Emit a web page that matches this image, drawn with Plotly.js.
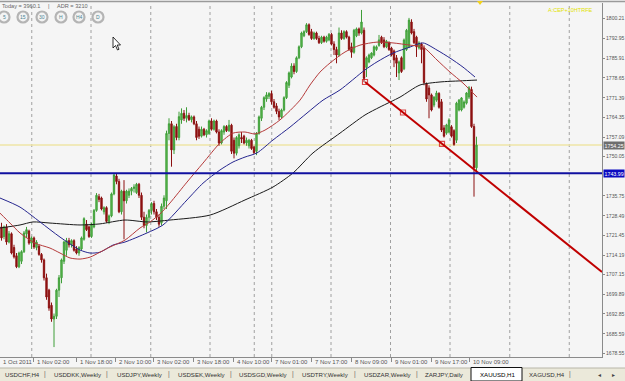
<!DOCTYPE html>
<html><head><meta charset="utf-8">
<script src="https://cdn.plot.ly/plotly-3.0.1.min.js"></script>
<style>html,body{margin:0;padding:0;background:#f5f5f5;}#chart{width:625px;height:381px;}</style>
</head><body><div id="chart"></div>
<script>
// ---- XAUUSD H1 candles (hourly bars, left to right) ----
const openP = [1724.5,1721,1724.5,1719,1722,1717,1714,1710,1712,1715.5,1722,1723,1718.6,1720.5,1717,1717.5,1714.5,1712.5,1706,1701.5,
1696,1691,1692,1701.5,1706,1712,1716,1719.5,1718,1719.5,1716.5,1715,1716.5,1720,1725.5,1724.5,1721,1724.5,1730.5,1735.5,
1735,1730,1731.5,1726.5,1728.5,1736.5,1743,1741,1730,1737.5,1734,1736,1737.5,1738.5,1737,1740,1736,1728,1725,1728,
1730.5,1733,1730,1728,1726,1732,1734,1758.5,1762,1752.5,1761,1757,1763.4,1765.8,1764,1765,1763.5,1764.5,1762,1760,
1757.5,1760,1758,1758.5,1763,1760,1763,1759,1755,1759,1761,1759.5,1761.5,1756,1751.3,1754,1757,1757.5,1755,1754,
1756,1753.5,1752,1758.5,1764,1768,1771,1772,1773,1770,1768.5,1766.5,1764.5,1767,1771.5,1776,1779,1783,1781,1786,
1790,1794,1795.5,1798,1795.5,1793,1795,1793,1791.5,1793.5,1792,1792.5,1794.5,1791,1789,1787,1795,1793,1795.5,1793.5,
1790,1788,1794,1796.5,1795,1796,1782.5,1784.5,1786,1787,1789,1790.5,1793.5,1792.5,1790,1791.5,1789.5,1788.5,1786,1780.5,
1786,1782,1789,1790,1799,1795.5,1793.5,1789.6,1791,1789.5,1776.5,1775,1772.5,1768.8,1770.6,1773,1770,1760.5,1758.6,1759,
1760.9,1759.5,1756,1767,1767,1768,1769.5,1771.7,1774.5,1761,1746];
const highP = [1726,1725,1725.5,1723,1722.5,1718,1715,1715.5,1716,1723,1724.5,1723.5,1721,1721,1719.7,1718,1715,1713,1707.5,1702,
1697,1693,1702,1707,1713,1719.5,1720.5,1720.5,1720,1720,1717.5,1717.5,1721,1728,1727,1725,1726,1731,1736.8,1736.5,
1735.5,1732,1732,1729,1737,1744.1,1744,1742,1738,1741.5,1738,1738.5,1739,1740,1740.5,1740.5,1737,1730,1729,1731,
1733.5,1734,1731,1729,1733,1736,1759.5,1764,1763,1761.5,1762,1766.4,1767.6,1767,1768,1766,1765,1765,1763,1761,
1761,1760.5,1760,1763.5,1764,1763.5,1763.5,1760,1760,1761.5,1761.5,1763.4,1762,1757,1757.5,1758.5,1759,1758,1757,1756.5,
1756.5,1754,1759,1765,1768.5,1772,1773.5,1773.5,1774,1771,1769.5,1767.5,1767.5,1772,1777.5,1781,1784,1784,1786.5,1790.5,
1795.5,1796,1798.6,1798.5,1796.5,1795.5,1795.5,1794,1794,1794,1794,1795,1795,1792,1790,1797,1796,1796,1796,1794,
1791.5,1796.5,1797,1797,1803.4,1797,1786.5,1787.5,1788,1790.5,1790.5,1794.3,1794,1793.5,1792.5,1792,1790,1789,1787,1785,
1786.5,1793,1796.5,1800.5,1800,1796.5,1794,1792,1791.5,1790.5,1777,1776,1773,1772,1774,1773.5,1771,1761.5,1762,1764,
1761.5,1760,1770,1771,1771.7,1770.5,1773.5,1775.7,1775.5,1762,1757.3];
const lowP = [1719.5,1720,1718,1718.5,1714.5,1713,1709.5,1709.5,1711,1715,1720.5,1718,1716.5,1716.5,1716,1714,1711.5,1705,1698,1694,
1690,1680.8,1691,1699,1704,1711,1714,1717,1717,1715.5,1714.5,1714,1716,1719.5,1723,1720.5,1720.5,1724,1730,1733.5,
1730.5,1729,1726,1725.5,1728,1736,1740,1729.5,1729,1720,1733,1735,1736,1737,1736.5,1735,1727,1724,1722.5,1726.5,
1729,1729,1727,1724.5,1725,1731,1731,1756,1746.4,1751,1756,1756,1762,1763,1762.5,1763,1762.5,1761.5,1756,1756.5,
1757,1757.5,1757,1758,1759.5,1759.5,1758.5,1754,1754.5,1758,1759,1759,1751,1749.4,1750.5,1753,1755,1754.5,1754,1753,
1752.5,1751,1750.6,1758,1763,1767,1770,1771,1769,1767.5,1765.5,1763.4,1764,1766.5,1771,1775,1778.5,1780,1780.5,1785.5,
1789.5,1793.5,1795,1794,1792.5,1792.5,1792.5,1791,1791,1791.5,1791.5,1792,1790.5,1787,1784,1786.5,1792.5,1792.5,1793,1788.5,
1786,1787.5,1793.5,1794,1794.5,1777.2,1779,1784,1785.5,1786.5,1788.5,1790,1791,1789.5,1789.5,1788.5,1786.5,1782.6,1779,1777.9,
1780.5,1781.5,1788.5,1789.5,1794.5,1791,1786.3,1789,1784,1776,1770,1764,1766.5,1768,1770,1767.5,1759,1757,1758,1758.5,
1757,1754,1755,1766.5,1766.5,1767.5,1769,1771,1760.5,1735.5,1744];
const closeP = [1720.5,1724.5,1719,1722,1715,1713.6,1710,1715,1715.5,1722.3,1723.5,1718.6,1720.5,1717.2,1719,1714.5,1712.5,1706,1699,1695,
1691,1692,1701.5,1706,1712.5,1719,1719.5,1718,1719.5,1716,1715,1717,1720.5,1727.5,1723.5,1721,1725.5,1730.5,1736,1734.5,
1731,1731.5,1726.5,1728.5,1736.5,1743.4,1741,1730,1737.5,1734,1737.5,1737.5,1738.5,1739,1740,1736,1728,1725,1728,1730.5,
1733,1730,1728,1725.5,1732,1735,1758.5,1762,1752.5,1760.9,1757,1764.6,1765.8,1764,1765,1763.5,1764.5,1762,1757,1757.5,
1760,1758,1759.5,1763,1760,1763,1759,1755,1759.5,1761,1759.5,1761.5,1752,1751.3,1757,1758,1756.5,1755,1756,1756,
1753,1751.5,1758.5,1764.5,1768,1771.5,1772.5,1773,1770,1768,1766.5,1764.5,1767,1771.5,1777,1780.5,1783,1781,1786,1790,
1795,1795.5,1798,1794.5,1793,1795,1793,1791.5,1793.5,1792,1793.5,1794.5,1791,1789,1787,1795,1793,1795.5,1793.5,1789,
1788,1796,1796.5,1795,1799,1778.5,1786,1787,1787.7,1790,1790,1792.5,1791.5,1790,1792,1789,1787,1785.2,1784,1784.5,
1781,1792.5,1796,1799.7,1795,1791.5,1790,1791.4,1789,1777,1771,1772.5,1767,1771.7,1773.2,1768,1759.7,1757.5,1761.6,1763.4,
1757.5,1754.5,1769.5,1770.6,1771.4,1769.9,1773.2,1775.1,1761,1746,1754.25];

// ---- moving averages, sampled along the chart (bar position, price) ----
const maRedBars = [-0.6,3.4,7.4,13.4,19.4,23.4,27.4,31.4,35.4,39.4,43.4,49.4,55.4,59.4,63.4,67.4,74.2,80.6,87.4,92.6,97.4,101.4,105.4,111.4,119.4,123.4,127.4,131.4,137.4,143.4,150.2,156.6,163.4,168.6,174.2,179.4,184.6,190.2];
const maRedVals = [1729.5,1725.9,1722.3,1718.6,1716.8,1715.0,1713.2,1712.8,1713.5,1715.3,1717.2,1719.7,1724.1,1726.3,1729.2,1733.2,1740.8,1747.7,1755.0,1758.6,1759.0,1758.3,1759.7,1763.4,1770.6,1776.1,1780.8,1784.1,1788.1,1790.6,1791.7,1791.4,1790.6,1789.9,1785.2,1780.8,1776.8,1771.7];
const maBlueBars = [-0.6,7.4,15.4,23.4,31.4,35.4,39.4,44.6,49.4,58.2,64.6,74.2,80.6,87.4,92.6,97.4,102.2,108.6,115.4,122.2,128.6,135.4,145.4,150.2,156.6,163.4,168.6,174.2,179.4,184.6,189.4];
const maBlueVals = [1735.0,1731.7,1726.3,1720.8,1716.1,1715.0,1715.3,1717.9,1719.0,1722.3,1725.2,1734.3,1740.4,1745.2,1748.1,1749.9,1751.4,1756.1,1760.8,1765.9,1770.6,1774.3,1781.6,1784.5,1787.7,1789.9,1791.4,1788.8,1785.9,1782.6,1779.0];
const maBlackBars = [-0.6,7.4,12.6,19.4,31.4,39.4,49.4,58.2,67.4,83.4,97.4,108.6,116.6,124.6,135.4,145.4,151.4,159.4,167.4,175.4,183.4,190.2];
const maBlackVals = [1724.1,1725.2,1726.3,1725.9,1725.2,1725.6,1727.0,1726.3,1727.0,1728.8,1734.3,1739.0,1744.1,1751.4,1758.6,1765.2,1768.1,1771.7,1776.1,1777.2,1777.6,1777.9];

// ---- drawn objects ----
const trendBars = [145.4,160.6,176.2,240.2];
const trendVals = [1777.2,1766.1,1754.7,1708.1];
const bidLevel = 1754.25;
const supportLevel = 1743.99;

// ---- axes ----
const priceTicks = [1800.21,1792.95,1785.91,1778.65,1771.39,1764.35,1757.09,1750.05,1735.75,1728.49,1721.45,1714.19,1707.15,1699.89,1692.85,1685.59,1678.55];
const timeLabels = ["1 Nov 02:00","1 Nov 18:00","2 Nov 10:00","3 Nov 02:00","3 Nov 18:00","4 Nov 10:00","7 Nov 01:00","7 Nov 17:00","8 Nov 09:00","9 Nov 01:00","9 Nov 17:00","10 Nov 09:00"];
const timeLabelBars = [12.6,29.8,45.4,60.6,76.6,92.6,107.8,123.8,139.8,155.8,171.8,187];
const firstDateLabel = "1 Oct 2011";
const dayGridBars = [12.1,35.8,59.7,83.4,101.1,108.1,131.8,155.6,179.4,203.3,227.1];
const tabNames = ["USDCHF,H4","USDDKK,Weekly","USDJPY,Weekly","USDSEK,Weekly","USDSGD,Weekly","USDTRY,Weekly","USDZAR,Weekly","ZARJPY,Daily","XAUUSD,H1","XAGUSD,H4"];
const tfButtons = ["5","15","30","H","H4","D"];

const barIdx = openP.map((_, i) => i);

// layout geometry (pixels)
const W = 625, H = 381, ML = 0, MR = 23, MT = 3, MB = 24;
const PW = W - ML - MR, PH = H - MT - MB;
const pxX = x => (x - ML) / PW;
const pxY = y => (H - MB - y) / PH;
const FONT = "Liberation Sans, Arial, sans-serif";

const traces = [
  {type:'candlestick', x:barIdx, open:openP, high:highP, low:lowP, close:closeP,
   increasing:{line:{color:'#3e9e38', width:1}, fillcolor:'#62c054'},
   decreasing:{line:{color:'#8c1010', width:1}, fillcolor:'#8c1010'},
   whiskerwidth:0, hoverinfo:'skip', showlegend:false},
  {type:'scatter', mode:'lines', x:maBlackBars, y:maBlackVals, line:{color:'#1a1a1a', width:1, shape:'spline', smoothing:0.7}, hoverinfo:'skip', showlegend:false},
  {type:'scatter', mode:'lines', x:maBlueBars, y:maBlueVals, line:{color:'#26268f', width:1, shape:'spline', smoothing:0.7}, hoverinfo:'skip', showlegend:false},
  {type:'scatter', mode:'lines', x:maRedBars, y:maRedVals, line:{color:'#b53a3a', width:1, shape:'spline', smoothing:0.7}, hoverinfo:'skip', showlegend:false},
  {type:'scatter', mode:'lines+markers', x:trendBars, y:trendVals, line:{color:'#c00000', width:2},
   marker:{symbol:'square-open', size:[5,5,5,0], color:'#d00000', line:{width:1.2}}, hoverinfo:'skip', showlegend:false}
];

const shapes = [];
dayGridBars.forEach(g => shapes.push({type:'line', xref:'x', yref:'paper', x0:g, x1:g, y0:0, y1:1, layer:'below', line:{color:'#a0a0a0', width:1, dash:'dot'}}));
shapes.push({type:'line', xref:'paper', yref:'y', x0:0, x1:1, y0:bidLevel, y1:bidLevel, layer:'below', line:{color:'#eee4a6', width:1.5}});
shapes.push({type:'line', xref:'paper', yref:'y', x0:0, x1:1, y0:supportLevel, y1:supportLevel, layer:'above', line:{color:'#1010a0', width:2}});
// top border
shapes.push({type:'line', xref:'paper', yref:'paper', x0:0, x1:W/PW, y0:pxY(1.5), y1:pxY(1.5), line:{color:'#9a9a9a', width:1.5}});
// tab strip
shapes.push({type:'rect', xref:'paper', yref:'paper', x0:0, x1:W/PW, y0:pxY(381), y1:pxY(368), fillcolor:'#ebe9da', line:{width:0}});
shapes.push({type:'line', xref:'paper', yref:'paper', x0:0, x1:W/PW, y0:pxY(368), y1:pxY(368), line:{color:'#b8b6a8', width:1}});
shapes.push({type:'rect', xref:'paper', yref:'paper', x0:pxX(471), x1:pxX(522), y0:pxY(381), y1:pxY(367.5), fillcolor:'#ffffff', line:{color:'#111111', width:1}});
// timeframe buttons
const btnX = [4,23,42,61,79,98];
btnX.forEach(cx => shapes.push({type:'circle', xref:'paper', yref:'paper', xsizemode:'pixel', ysizemode:'pixel',
  xanchor:pxX(cx), yanchor:pxY(17), x0:-5.5, x1:5.5, y0:-5.5, y1:5.5, fillcolor:'#f3f3f3', line:{color:'#b4b4b4', width:2.2}}));
// mouse cursor
shapes.push({type:'path', xref:'paper', yref:'paper', xsizemode:'pixel', ysizemode:'pixel', xanchor:pxX(113), yanchor:pxY(37),
  path:'M0,0 L0,-11 L2.5,-8.5 L4.5,-13 L6,-12.3 L4.2,-8 L7.5,-8 Z', fillcolor:'#ffffff', line:{color:'#000000', width:0.8}});
// small marker at top
shapes.push({type:'path', xref:'paper', yref:'paper', xsizemode:'pixel', ysizemode:'pixel', xanchor:pxX(480), yanchor:pxY(1),
  path:'M-3,0 L3,0 L0,-4 Z', fillcolor:'#f2d21a', line:{width:0}});

const ann = [];
const base = {xref:'paper', yref:'paper', showarrow:false, font:{family:FONT, size:6, color:'#555555'}};
timeLabels.forEach((t, i) => ann.push(Object.assign({}, base, {xref:'x', x:timeLabelBars[i], xanchor:'left', xshift:1.5, y:pxY(361.5), yanchor:'middle', text:t})));
ann.push(Object.assign({}, base, {x:pxX(0.5), xanchor:'left', y:pxY(361.5), yanchor:'middle', text:firstDateLabel}));
// header
ann.push(Object.assign({}, base, {x:pxX(0), xanchor:'left', y:pxY(5.5), yanchor:'middle', text:'Today = 3960.1', font:{family:FONT, size:5.6, color:'#666'}}));
ann.push(Object.assign({}, base, {x:pxX(48), xanchor:'center', y:pxY(5.5), yanchor:'middle', text:'|', font:{family:FONT, size:5.6, color:'#666'}}));
ann.push(Object.assign({}, base, {x:pxX(55), xanchor:'left', y:pxY(5.5), yanchor:'middle', text:'ADR = 3210', font:{family:FONT, size:5.6, color:'#666'}}));
tfButtons.forEach((t, i) => ann.push(Object.assign({}, base, {x:pxX(btnX[i]), xanchor:'center', y:pxY(17), yanchor:'middle', text:t, font:{family:FONT, size:5, color:'#4d8593'}})));
ann.push(Object.assign({}, base, {x:pxX(570), xanchor:'center', y:pxY(10), yanchor:'middle', text:'A:CEP+10HTRFE', font:{family:FONT, size:5.5, color:'#e2e200'}}));
// price boxes
ann.push(Object.assign({}, base, {x:pxX(603), xanchor:'left', yref:'y', y:bidLevel, yanchor:'middle', text:bidLevel.toFixed(2), bgcolor:'#6e6e6e', borderpad:0.5, font:{family:FONT, size:5.3, color:'#ffffff'}}));
ann.push(Object.assign({}, base, {x:pxX(603), xanchor:'left', yref:'y', y:supportLevel, yanchor:'middle', text:supportLevel.toFixed(2), bgcolor:'#0a0ac0', borderpad:0.5, font:{family:FONT, size:5.3, color:'#ffffff'}}));
// tabs
const tabX = [3,52,115,176,237,300,362,423,478,527];
const sepX = [45,107,169,231,293,355,417,570];
tabNames.forEach((t, i) => ann.push(Object.assign({}, base, {x:pxX(tabX[i]), xanchor:'left', y:pxY(374), yanchor:'middle', text:t,
  font:{family:FONT, size:6.1, color: t === 'XAUUSD,H1' ? '#000000' : '#333333'}})));
sepX.forEach(s => ann.push(Object.assign({}, base, {x:pxX(s), xanchor:'center', y:pxY(374), yanchor:'middle', text:'|', font:{family:FONT, size:6.5, color:'#666'}})));
ann.push(Object.assign({}, base, {x:pxX(599), xanchor:'center', y:pxY(374), yanchor:'middle', text:'◂', font:{family:'DejaVu Sans', size:6, color:'#444'}}));
ann.push(Object.assign({}, base, {x:pxX(613), xanchor:'center', y:pxY(374), yanchor:'middle', text:'▸', font:{family:'DejaVu Sans', size:6, color:'#444'}}));

const layout = {
  width:W, height:H, margin:{l:ML, r:MR, t:MT, b:MB, pad:0},
  paper_bgcolor:'#f5f5f5', plot_bgcolor:'#f5f5f5', showlegend:false, boxgap:0.25,
  font:{family:FONT, size:6, color:'#555'},
  xaxis:{range:[-0.6,240.2], tickvals:timeLabelBars, showticklabels:false, ticks:'outside', ticklen:4, tickcolor:'#8a8a8a',
    showgrid:false, zeroline:false, showline:true, linecolor:'#8a8a8a', linewidth:1, rangeslider:{visible:false}, fixedrange:true},
  yaxis:{side:'right', range:[1677.19,1805.92], tickvals:priceTicks, ticktext:priceTicks.map(v => v.toFixed(2)),
    ticks:'outside', ticklen:2, tickcolor:'#8a8a8a', ticklabelstandoff:0, tickfont:{family:FONT, size:5.1, color:'#555'},
    showgrid:false, zeroline:false, showline:true, linecolor:'#8a8a8a', linewidth:1, fixedrange:true},
  shapes:shapes, annotations:ann
};
Plotly.newPlot('chart', traces, layout, {displayModeBar:false, staticPlot:true});
</script>
</body></html>
